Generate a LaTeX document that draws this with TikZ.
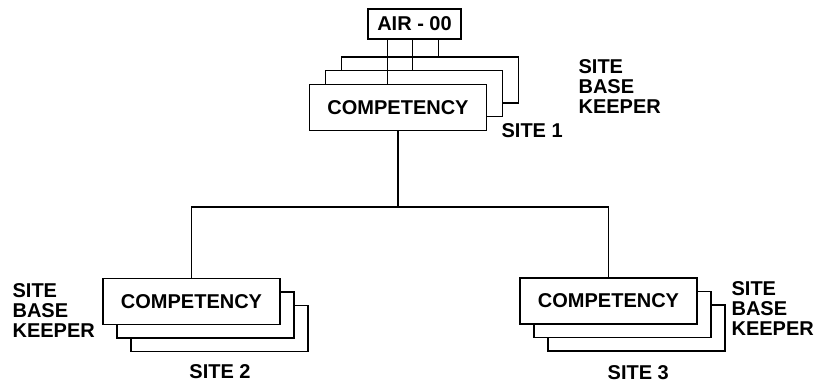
\documentclass[tikz,border=0pt]{standalone}
\usepackage{fontspec}
\setmainfont{Liberation Sans}
\begin{document}
\begin{tikzpicture}[x=1bp,y=-1bp,line width=1.2bp,
  txt/.style={font=\bfseries\fontsize{20bp}{20bp}\selectfont},
  box/.style={draw, fill=white, minimum width=177bp, minimum height=46bp, inner sep=0pt, txt},
  lbl/.style={inner sep=0pt, align=left, anchor=west, txt}]
\useasboundingbox (0,0) rectangle (817,382);

% head office
\node[draw, fill=white, minimum width=93bp, minimum height=30bp, inner sep=0pt, txt] (air) at (414.5,24) {AIR - 00};

% site 1 stack (layers shift up-right)
\node[box] (f1c) at (430,80) {};
\node[box] (f1b) at (414,93.5) {};
\node[box] (f1)  at (398,107.5) {COMPETENCY};

% site 2 stack (layers shift down-right)
\node[box] (f2c) at (219.5,328.5) {};
\node[box] (f2b) at (205.5,315) {};
\node[box] (f2)  at (191.5,301.5) {COMPETENCY};

% site 3 stack
\node[box] (f3c) at (636.5,328) {};
\node[box] (f3b) at (622.5,314.5) {};
\node[box] (f3)  at (608.5,301) {COMPETENCY};

% links from the head office to each layer of site 1
\path ([xshift=20bp]air.south west) coordinate (t1)
      ([xshift=45bp]air.south west) coordinate (t2)
      ([xshift=71bp]air.south west) coordinate (t3);
\draw (t1) -- (t1 |- f1.north);
\draw (t2) -- (t2 |- f1b.north);
\draw (t3) -- (t3 |- f1c.north);

% distribution bus to sites 2 and 3
\coordinate (bus) at (0,207);
\draw (f1.south) -- (f1.south |- bus);
\draw (f2.north) -- (f2.north |- bus) -- (f3.north |- bus) -- (f3.north);

% labels
\node[lbl] (k1) at (578,86.3) {SITE\\BASE\\KEEPER};
\node[lbl] (s1) at (501,130.3) {SITE 1};
\node[lbl] (k2) at (12,310.5) {SITE\\BASE\\KEEPER};
\node[txt, inner sep=0pt] (s2) at (220,372) {SITE 2};
\node[lbl] (k3) at (731,309) {SITE\\BASE\\KEEPER};
\node[txt, inner sep=0pt] (s3) at (638.3,372.5) {SITE 3};
\end{tikzpicture}
\end{document}
